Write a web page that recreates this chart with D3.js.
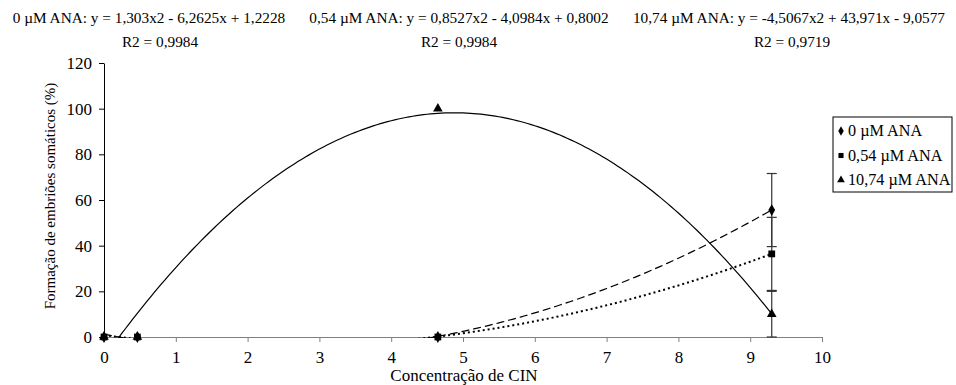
<!DOCTYPE html>
<html>
<head>
<meta charset="utf-8">
<script src="https://cdn.jsdelivr.net/npm/d3@7/dist/d3.min.js"></script>
<style>
  body { margin: 0; background: #fff; }
  svg text { font-family: "Liberation Serif", "Times New Roman", serif !important; fill: #000; }
</style>
</head>
<body>
<svg width="956" height="385"></svg>
<script>
// CIN concentration (x) and % of somatic embryo formation per ANA level
let cin = [0, 0.465, 4.65, 9.3];
let ana0 = [0, 0, 0, 55.6];
let ana054 = [0, 0, 0, 36.4];
let ana1074 = [0, 0, 100, 10];
let err0 = [0, 0, 0, 16];
let err054 = [0, 0, 0, 16];
let err1074 = [0, 0, 0, 10];

let seriesNames = ["0 µM ANA", "0,54 µM ANA", "10,74 µM ANA"];
// trendline coefficients [a, b, c] for y = a x^2 + b x + c
let coef0 = [1.303, -6.2625, 1.2228];
let coef054 = [0.8527, -4.0984, 0.8002];
let coef1074 = [-4.5067, 43.971, -9.0577];
let eqLabels = [
  "0 µM ANA: y = 1,303x2 - 6,2625x + 1,2228",
  "0,54 µM ANA: y = 0,8527x2 - 4,0984x + 0,8002",
  "10,74 µM ANA: y = -4,5067x2 + 43,971x - 9,0577"
];
let r2Labels = ["R2 = 0,9984", "R2 = 0,9984", "R2 = 0,9719"];
let xTicks = [0, 1, 2, 3, 4, 5, 6, 7, 8, 9, 10];
let yTicks = [0, 20, 40, 60, 80, 100, 120];

let svg = d3.select("svg");

let xScale = d3.scaleLinear().domain([0, 10]).range([104, 822]);
let yScale = d3.scaleLinear().domain([0, 120]).range([337, 63]);

// equations on top
let eqX = [149, 459, 789];
let r2X = [160, 459, 792];
eqLabels.forEach((t, i) => {
  svg.append("text").attr("x", eqX[i]).attr("y", 23)
    .attr("text-anchor", "middle").style("font-size", "15.3px").text(t);
  svg.append("text").attr("x", r2X[i]).attr("y", 47)
    .attr("text-anchor", "middle").style("font-size", "15.3px").text(r2Labels[i]);
});

// axes
let xAxis = svg.append("g")
  .attr("transform", "translate(0," + yScale(0) + ")")
  .call(d3.axisBottom(xScale).tickValues(xTicks).tickSize(5).tickSizeOuter(0).tickFormat(d3.format("d")));
xAxis.attr("font-family", null);
xAxis.select(".domain").attr("stroke", "#808080");
xAxis.selectAll(".tick line").attr("stroke", "#808080");
xAxis.selectAll("text").style("font-size", "17px").attr("dy", "1.05em");

let yAxis = svg.append("g")
  .attr("transform", "translate(" + xScale(0) + ",0)")
  .call(d3.axisLeft(yScale).tickValues(yTicks).tickSize(5).tickSizeOuter(0));
yAxis.attr("font-family", null);
yAxis.select(".domain").attr("stroke", "#000");
yAxis.selectAll("text").style("font-size", "17px").attr("x", -12);

svg.append("text")
  .attr("transform", "translate(55,196) rotate(-90)")
  .attr("text-anchor", "middle").style("font-size", "15px")
  .text("Formação de embriões somáticos (%)");

svg.append("text").attr("x", 464).attr("y", 381)
  .attr("text-anchor", "middle").style("font-size", "17px")
  .text("Concentração de CIN");

// trendlines, clipped to the plot area
svg.append("clipPath").attr("id", "plot")
  .append("rect").attr("x", xScale(0)).attr("y", yScale(120))
  .attr("width", xScale(10) - xScale(0)).attr("height", yScale(0) - yScale(120) + 1);

let xs = d3.range(0, 9.3001, 0.05);
let trend = [
  { c: coef0, dash: "8,4", w: 1.2 },
  { c: coef054, dash: "2,3", w: 2 },
  { c: coef1074, dash: null, w: 1.2 }
];
let line = d3.line().x(d => xScale(d[0])).y(d => yScale(d[1]));
trend.forEach(t => {
  let pts = xs.map(x => [x, t.c[0] * x * x + t.c[1] * x + t.c[2]]);
  svg.append("path").attr("clip-path", "url(#plot)")
    .attr("d", line(pts)).attr("fill", "none").attr("stroke", "#000")
    .attr("stroke-width", t.w).attr("stroke-dasharray", t.dash);
});

// error bars
let errSets = [[ana0, err0], [ana054, err054], [ana1074, err1074]];
errSets.forEach(([vals, errs]) => {
  cin.forEach((x, i) => {
    if (!errs[i]) return;
    let px = xScale(x);
    let lo = Math.max(0, vals[i] - errs[i]), hi = vals[i] + errs[i];
    svg.append("line").attr("x1", px).attr("x2", px)
      .attr("y1", yScale(lo)).attr("y2", yScale(hi)).attr("stroke", "#333").attr("stroke-width", 1.2);
    [vals[i] - errs[i], hi].forEach(v => {
      if (v < 0) return;
      svg.append("line").attr("x1", px - 5).attr("x2", px + 5)
        .attr("y1", yScale(v)).attr("y2", yScale(v)).attr("stroke", "#333").attr("stroke-width", 1.2);
    });
  });
});

// markers
let symbols = [d3.symbolDiamond, d3.symbolSquare, d3.symbolTriangle];
let sizes = [40, 46, 40];
let seriesVals = [ana0, ana054, ana1074];
[2, 0, 1].forEach(s => {
  svg.append("g").selectAll("path")
    .data(cin.map((x, i) => [x, seriesVals[s][i]]))
    .join("path")
    .attr("transform", d => "translate(" + xScale(d[0]) + "," + yScale(d[1]) + ")")
    .attr("d", d3.symbol().type(symbols[s]).size(sizes[s]))
    .attr("fill", "#000");
});

// legend
let legend = svg.append("g").attr("transform", "translate(833,117)");
legend.append("rect").attr("width", 119).attr("height", 75)
  .attr("fill", "#fff").attr("stroke", "#000");
seriesNames.forEach((n, i) => {
  let y = 14 + i * 24.5;
  legend.append("path").attr("transform", "translate(8," + y + ")")
    .attr("d", d3.symbol().type(symbols[i]).size(26)).attr("fill", "#000");
  legend.append("text").attr("x", 15).attr("y", y + 5)
    .style("font-size", "16.2px").text(n);
});
</script>
</body>
</html>
